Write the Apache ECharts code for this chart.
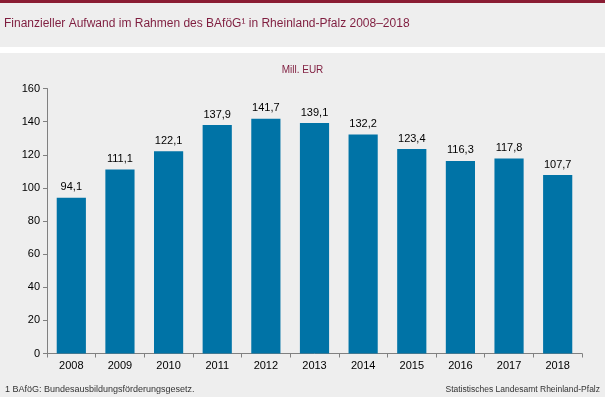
<!DOCTYPE html>
<html>
<head>
<meta charset="utf-8" />
<title>BAföG Rheinland-Pfalz</title>
<script src="https://cdn.jsdelivr.net/npm/echarts@6/dist/echarts.min.js"></script>
<style>
  html, body { margin: 0; padding: 0; background: #eeeeee; }
</style>
</head>
<body>
<div id="main" style="width: 605px; height: 397px;"></div>
<script type="text/javascript">
// years and spending in Mill. EUR
var years = ['2008', '2009', '2010', '2011', '2012', '2013', '2014', '2015', '2016', '2017', '2018'];
var aufwand = [94.1, 111.1, 122.1, 137.9, 141.7, 139.1, 132.2, 123.4, 116.3, 117.8, 107.7];
var yTicks = [0, 20, 40, 60, 80, 100, 120, 140, 160];

var myChart = echarts.init(document.getElementById('main'));
var font = 'Liberation Sans, Arial, sans-serif';

myChart.setOption({
  backgroundColor: '#eeeeee',
  animation: false,
  textStyle: { fontFamily: font },
  graphic: [
    { type: 'rect', shape: { x: 0, y: 0, width: 605, height: 3 }, style: { fill: '#8a1c33' } },
    { type: 'rect', shape: { x: 0, y: 47, width: 605, height: 6 }, style: { fill: '#ffffff' } },
    { type: 'text', left: 4, top: 18, style: { text: 'Finanzieller Aufwand im Rahmen des BAföG¹ in Rheinland-Pfalz 2008–2018', fill: '#7f1d3f', font: '12px ' + font } },
    { type: 'text', left: 'center', top: 65, style: { text: 'Mill. EUR', fill: '#7f1d3f', font: '10px ' + font } },
    { type: 'text', left: 5, top: 385, style: { text: '1 BAföG: Bundesausbildungsförderungsgesetz.', fill: '#333333', font: '9px ' + font } },
    { type: 'text', right: 5, top: 385, style: { text: 'Statistisches Landesamt Rheinland-Pfalz', fill: '#333333', font: '8.5px ' + font } }
  ],
  grid: { left: 47, right: 23, top: 88.5, bottom: 43.5, containLabel: false },
  xAxis: {
    type: 'category',
    data: years,
    axisLine: { lineStyle: { color: '#808080', width: 1 } },
    axisTick: { show: true, length: 4, lineStyle: { color: '#808080' } },
    axisLabel: { color: '#000000', fontSize: 11, margin: 7 }
  },
  yAxis: {
    type: 'value',
    min: yTicks[0],
    max: yTicks[yTicks.length - 1],
    interval: 20,
    axisLine: { show: true, lineStyle: { color: '#808080', width: 1 } },
    axisTick: { show: true, length: 4, lineStyle: { color: '#808080' } },
    splitLine: { show: false },
    axisLabel: { color: '#000000', fontSize: 11, margin: 7 }
  },
  series: [
    {
      name: 'Aufwand',
      type: 'bar',
      data: aufwand,
      barWidth: '60%',
      itemStyle: { color: '#0073a6' },
      label: {
        show: true,
        position: 'top',
        distance: 5,
        color: '#000000',
        fontSize: 11,
        formatter: function (p) { return p.value.toFixed(1).replace('.', ','); }
      }
    }
  ]
});
</script>
</body>
</html>
